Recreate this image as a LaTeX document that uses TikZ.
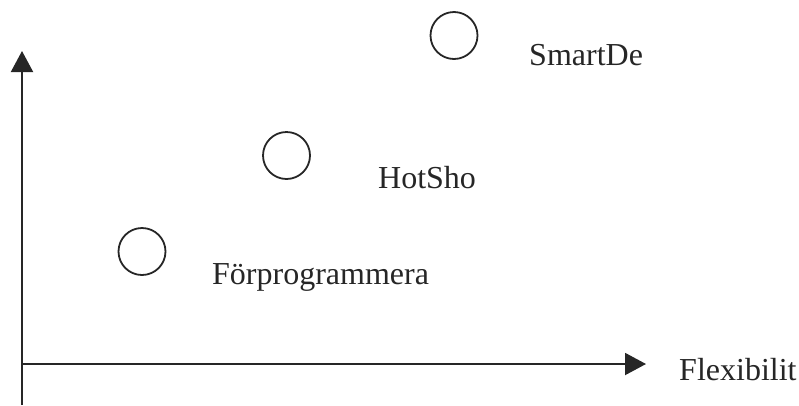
\documentclass[tikz,border=0pt]{standalone}
\usepackage{fontspec}
\setmainfont{Liberation Serif}
\usetikzlibrary{arrows.meta}
\begin{document}
\begin{tikzpicture}[x=1pt,y=-1pt,
  axis/.style={draw=black!85,line width=2pt,-{Triangle[length=21pt,width=22pt]}},
  dot/.style={circle,draw=black!85,line width=1.8pt,minimum size=47pt,inner sep=0pt},
  lbl/.style={anchor=base west,inner sep=0pt,font=\fontsize{32}{38}\selectfont,text=black!85}]
\useasboundingbox (0,0) rectangle (799,405);
\coordinate (o) at (22,364);
\coordinate (ybot) at (22,405);
\coordinate (ytop) at (22,51);
\coordinate (xend) at (646,364);
\draw[axis] (ybot) -- (ytop);
\draw[axis] (o) -- (xend);
\node[dot] (c1) at (454,35.5) {};
\node[dot] (c2) at (286.5,155.5) {};
\node[dot] (c3) at (142,251.5) {};
\node[lbl] (t1) at (529,65) {SmartDe};
\node[lbl] (t2) at (378,188) {HotSho};
\node[lbl] (t3) at (212,284) {Förprogrammera};
\node[lbl] (t4) at (679,380) {Flexibilit};
\end{tikzpicture}
\end{document}
